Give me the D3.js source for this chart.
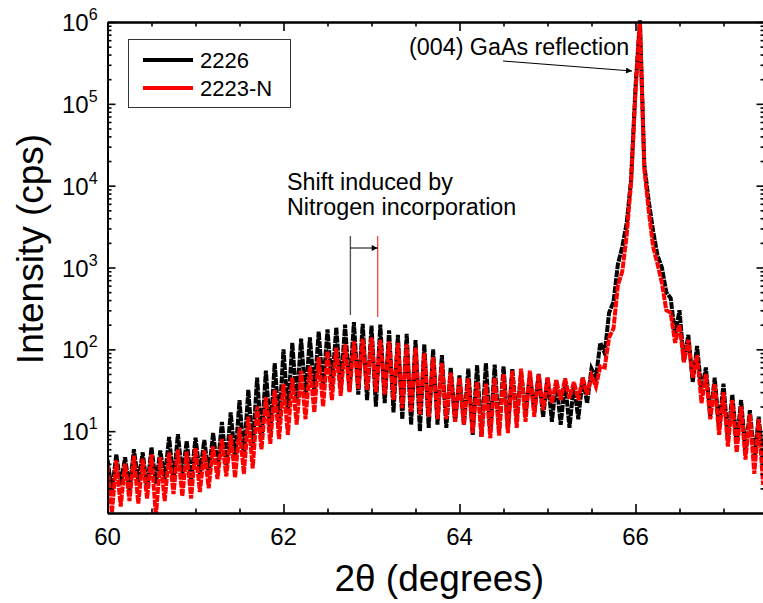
<!DOCTYPE html>
<html>
<head>
<meta charset="utf-8">
<script src="https://cdn.jsdelivr.net/npm/d3@7"></script>
<style>
  html, body { margin: 0; padding: 0; background: #fff; }
  svg { display: block; font-family: "Liberation Sans", Arial, sans-serif; }
</style>
</head>
<body>
<svg id="chart" width="763" height="603"></svg>
<script>
// ---- data ----
const twoThetaStart = 60.0;   // degrees, first sample
const twoThetaStep = 0.05;    // degrees between samples
const seriesNames = ["2226", "2223-N"];
const seriesColors = ["#000000", "#ff0000"];

// Sample 2226 (counts per second), 60.00 .. 67.45 deg
const counts2226 = [
  4.5, 1.8, 5.2, 2.2, 4.8, 1.9, 6.0, 2.4, 5.5, 2.0,        // 60.00-60.45
  6.3, 2.3, 5.8, 2.6, 8.5, 2.4, 9.2, 2.8, 7.6, 2.5,        // 60.50-60.95
  8.3, 3.0, 7.8, 2.9, 9.5, 3.4, 13, 3.8, 17, 4.4,          // 61.00-61.45
  24, 4.8, 32, 6.0, 45, 8, 55, 9.5, 68, 12,                // 61.50-61.95
  100, 17, 120, 22, 135, 26, 140, 30, 165, 33,             // 62.00-62.45
  175, 35, 185, 34, 200, 31, 215, 28, 205, 24,             // 62.50-62.95
  195, 20, 200, 22, 170, 17, 150, 14, 155, 12,             // 63.00-63.45
  130, 10, 115, 11, 100, 12, 85, 11, 60, 13,               // 63.50-63.95
  48, 12, 58, 9, 64, 8.5, 68, 9.5, 65, 10,                 // 64.00-64.45
  62, 11, 58, 14, 52, 17, 48, 18, 50, 15,                  // 64.50-64.95
  45, 13, 42, 12, 40, 11, 38, 14, 45, 22,                  // 65.00-65.45
  58, 45, 120, 90, 280, 380, 1100, 1800, 3500, 12000,      // 65.50-65.95
  160000, 1050000, 18000, 6500, 2800, 1400, 1000, 500, 420, 150, // 66.00-66.45
  300, 70, 150, 40, 110, 30, 60, 15, 45, 11,               // 66.50-66.95
  38, 8, 28, 7, 24, 5.5, 18, 4.5, 15, 3.8                  // 67.00-67.45
];

// Sample 2223-N (counts per second), 60.00 .. 67.45 deg
const counts2223N = [
  3.8, 1.0, 4.4, 1.2, 4.0, 1.4, 5.0, 1.3, 4.6, 1.5,        // 60.00-60.45
  5.2, 0.9, 4.8, 1.4, 5.5, 1.7, 6.0, 1.6, 5.6, 1.5,        // 60.50-60.95
  6.2, 1.8, 5.8, 2.0, 6.5, 2.6, 8.0, 2.8, 9.0, 2.7,        // 61.00-61.45
  11, 3.0, 15, 3.5, 20, 6, 26, 7, 32, 8,                   // 61.50-61.95
  38, 9, 45, 12, 55, 14, 62, 17, 80, 20,                   // 62.00-62.45
  95, 24, 105, 27, 115, 30, 125, 33, 135, 32,              // 62.50-62.95
  140, 30, 130, 28, 125, 24, 120, 19, 115, 17,             // 63.00-63.45
  105, 16, 90, 15, 80, 14, 68, 14, 52, 13,                 // 63.50-63.95
  45, 12, 44, 9.5, 40, 8.5, 38, 8.2, 45, 8.8,              // 64.00-64.45
  50, 9.5, 55, 11, 58, 13, 55, 15, 50, 18,                 // 64.50-64.95
  45, 22, 42, 24, 44, 25, 40, 24, 45, 28,                  // 65.00-65.45
  48, 35, 62, 60, 140, 180, 600, 900, 2500, 11000,         // 65.50-65.95
  140000, 1000000, 16000, 5000, 1800, 1100, 650, 300, 280, 120, // 66.00-66.45
  200, 70, 130, 45, 85, 22, 50, 14, 38, 9,                 // 66.50-66.95
  30, 6.5, 24, 5.5, 20, 4.5, 16, 3, 14, 2.2                // 67.00-67.45
];

const xDomain = [60, 67.45];
const yDomain = [1, 1e6];
const xMajorTicks = [60, 62, 64, 66];
const xMinorTicks = [60.5, 61, 61.5, 62.5, 63, 63.5, 64.5, 65, 65.5, 66.5, 67];
const yMajorExponents = [1, 2, 3, 4, 5, 6];

const peakLabel = "(004) GaAs reflection";
const shiftLabel = ["Shift induced by", "Nitrogen incorporation"];
const shiftFrom = 62.76;  // 2226 layer peak
const shiftTo = 63.07;    // 2223-N layer peak
const xTitle = "2\u03B8 (degrees)";
const yTitle = "Intensity (cps)";

// ---- layout ----
const plot = { left: 107.5, right: 763.1, top: 22, bottom: 513 };
const svg = d3.select("#chart");

const x = d3.scaleLinear().domain(xDomain).range([plot.left, plot.right]);
const y = d3.scaleLog().domain(yDomain).range([plot.bottom, plot.top]);

svg.append("defs").append("clipPath").attr("id", "clip")
  .append("rect")
  .attr("x", plot.left).attr("y", plot.top - 4)
  .attr("width", plot.right - plot.left).attr("height", plot.bottom - plot.top + 4);

// ---- series ----
const line = d3.line()
  .x((d, i) => x(twoThetaStart + i * twoThetaStep))
  .y(d => y(d));

const dataSets = [counts2226, counts2223N];
const gData = svg.append("g").attr("clip-path", "url(#clip)");
dataSets.forEach((ds, k) => {
  gData.append("path")
    .datum(ds)
    .attr("fill", "none")
    .attr("stroke", seriesColors[k])
    .attr("stroke-width", 4)
    .attr("stroke-linejoin", "miter")
    .attr("stroke-dasharray", "7,1")
    .attr("d", line);
});

// ---- axes ----
const axisColor = "#000";
function styleAxis(g) {
  g.selectAll("path.domain").attr("stroke", axisColor).attr("stroke-width", 2);
  g.selectAll(".tick line").attr("stroke", axisColor).attr("stroke-width", 1.6);
  g.selectAll("text").remove();
}

const yMinorTicks = [];
for (let e = 0; e < 6; e++) for (let m = 2; m <= 9; m++) yMinorTicks.push(m * Math.pow(10, e));
const yMajorTicks = yMajorExponents.map(e => Math.pow(10, e));

// bottom
svg.append("g").attr("transform", `translate(0,${plot.bottom})`)
  .call(d3.axisBottom(x).tickValues(xMajorTicks).tickSize(-9).tickSizeOuter(0)).call(styleAxis);
svg.append("g").attr("transform", `translate(0,${plot.bottom})`)
  .call(d3.axisBottom(x).tickValues(xMinorTicks).tickSize(-4.5).tickSizeOuter(0)).call(styleAxis);
// top
svg.append("g").attr("transform", `translate(0,${plot.top})`)
  .call(d3.axisTop(x).tickValues(xMajorTicks).tickSize(-9).tickSizeOuter(0)).call(styleAxis);
svg.append("g").attr("transform", `translate(0,${plot.top})`)
  .call(d3.axisTop(x).tickValues(xMinorTicks).tickSize(-4.5).tickSizeOuter(0)).call(styleAxis);
// left
svg.append("g").attr("transform", `translate(${plot.left},0)`)
  .call(d3.axisLeft(y).tickValues(yMajorTicks).tickSize(-8).tickSizeOuter(0)).call(styleAxis);
svg.append("g").attr("transform", `translate(${plot.left},0)`)
  .call(d3.axisLeft(y).tickValues(yMinorTicks).tickSize(-4).tickSizeOuter(0)).call(styleAxis);
// right (axis line lies just beyond the visible edge)
const rightX = 764.5;
svg.append("g").attr("transform", `translate(${rightX},0)`)
  .call(d3.axisRight(y).tickValues(yMajorTicks).tickSize(-8).tickSizeOuter(0)).call(styleAxis);
svg.append("g").attr("transform", `translate(${rightX},0)`)
  .call(d3.axisRight(y).tickValues(yMinorTicks).tickSize(-4).tickSizeOuter(0)).call(styleAxis);

// x tick labels
svg.append("g").selectAll("text").data(xMajorTicks).join("text")
  .attr("x", d => x(d)).attr("y", plot.bottom + 32)
  .attr("text-anchor", "middle").attr("font-size", 24).attr("fill", "#000")
  .text(d => d);

// y tick labels 10^n
const yl = svg.append("g").selectAll("text").data(yMajorExponents).join("text")
  .attr("x", 62).attr("y", d => y(Math.pow(10, d)) + 9)
  .attr("font-size", 24).attr("fill", "#000");
yl.append("tspan").text("10");
yl.append("tspan").attr("font-size", 16).attr("dy", -11).text(d => d);

// axis titles
svg.append("text").attr("x", (plot.left + plot.right) / 2 + 4).attr("y", 591)
  .attr("text-anchor", "middle").attr("font-size", 37).attr("fill", "#000")
  .text(xTitle);
svg.append("text")
  .attr("transform", `translate(43,249) rotate(-90)`)
  .attr("text-anchor", "middle").attr("font-size", 37).attr("fill", "#000")
  .text(yTitle);

// ---- legend ----
const lg = svg.append("g");
lg.append("rect").attr("x", 128.5).attr("y", 39.5).attr("width", 162).attr("height", 68)
  .attr("fill", "#fff").attr("stroke", "#333").attr("stroke-width", 1);
seriesNames.forEach((name, k) => {
  const ly = 60 + k * 28;
  lg.append("line").attr("x1", 143).attr("x2", 193).attr("y1", ly).attr("y2", ly)
    .attr("stroke", seriesColors[k]).attr("stroke-width", 4);
  lg.append("text").attr("x", 200).attr("y", ly + 8).attr("font-size", 22).attr("fill", "#000")
    .text(name);
});

// ---- annotations ----
svg.append("defs").append("marker").attr("id", "arrow")
  .attr("viewBox", "0 0 10 10").attr("refX", 10).attr("refY", 5)
  .attr("markerWidth", 10).attr("markerHeight", 6).attr("markerUnits", "userSpaceOnUse")
  .attr("orient", "auto")
  .append("path").attr("d", "M0,0 L10,5 L0,10 Z").attr("fill", "#000");

svg.append("text").attr("x", 409).attr("y", 55).attr("font-size", 23.3).attr("fill", "#000")
  .text(peakLabel);
svg.append("line").attr("x1", 503).attr("y1", 61).attr("x2", 632).attr("y2", 71)
  .attr("stroke", "#000").attr("stroke-width", 1).attr("marker-end", "url(#arrow)");

shiftLabel.forEach((t, k) => {
  svg.append("text").attr("x", 287).attr("y", 190 + k * 25).attr("font-size", 23.3).attr("fill", "#000")
    .text(t);
});
svg.append("line").attr("x1", x(shiftFrom)).attr("x2", x(shiftFrom)).attr("y1", 236).attr("y2", 315)
  .attr("stroke", "#555").attr("stroke-width", 1.4);
svg.append("line").attr("x1", x(shiftTo)).attr("x2", x(shiftTo)).attr("y1", 236).attr("y2", 317)
  .attr("stroke", "#f05050").attr("stroke-width", 1.4);
svg.append("line").attr("x1", x(shiftFrom)).attr("x2", x(shiftTo)).attr("y1", 248).attr("y2", 248)
  .attr("stroke", "#000").attr("stroke-width", 1).attr("marker-end", "url(#arrow)");
</script>
</body>
</html>
